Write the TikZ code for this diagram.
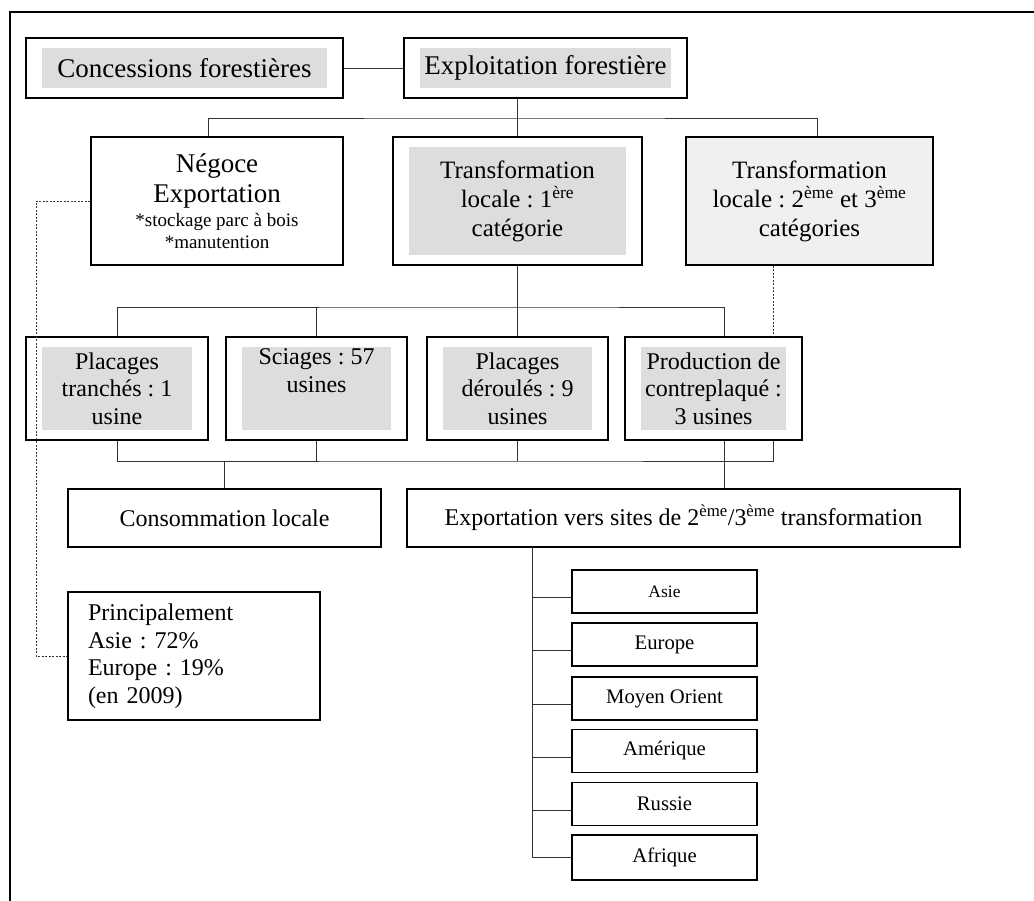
\documentclass[tikz,border=0pt]{standalone}
\usepackage{fontspec}
\setmainfont{Liberation Serif}
\usepackage{xcolor}
\usetikzlibrary{positioning}

\definecolor{fondgris}{RGB}{220,221,223}
\definecolor{fondclair}{RGB}{240,240,240}

\newcommand{\tA}{\fontsize{27}{30}\selectfont}
\newcommand{\tB}{\fontsize{25}{29}\selectfont}
\newcommand{\tC}{\fontsize{24}{27.5}\selectfont}
\newcommand{\tD}{\fontsize{19}{22}\selectfont}
\newcommand{\tE}{\fontsize{20.7}{24}\selectfont}

\frenchspacing

\begin{document}
\begin{tikzpicture}[x=1pt, y=-1pt,
    boite/.style={draw, line width=1.6pt, align=center, inner sep=0pt},
    grisee/.style={path picture={\fill[fondgris]
        ([shift={(16pt,-10pt)}]path picture bounding box.north west) rectangle
        ([shift={(-16pt,10pt)}]path picture bounding box.south east);}},
    lien/.style={draw=black!80, line width=0.9pt},
    pointille/.style={draw=black!80, line width=0.9pt, dash pattern=on 2pt off 1.5pt}]

      \useasboundingbox (0,0) rectangle (1034,901);
      \draw[line width=2pt] (1034,12) -- (10,12) -- (10,901);

      \node[boite, grisee, font=\tA, minimum width=317pt, minimum height=60pt] (conc) at (184.5,68) {Concessions forestières};
      \node[boite, grisee, font=\tA, minimum width=283pt, minimum height=60pt] (expl) at (545.5,68) {Exploitation forestière};

      \node[boite, font=\tA, minimum width=252pt, minimum height=128pt] (nego) at (217,201)
        {Négoce\\ Exportation\\[-6pt] \tD *stockage parc à bois\\[-8pt] \tD *manutention};
      \node[boite, grisee, font=\tB, minimum width=249pt, minimum height=128pt] (trans1) at (517.5,201)
        {Transformation\\ locale : 1\textsuperscript{ère}\\ catégorie};
      \node[boite, fill=fondclair, font=\tB, minimum width=247pt, minimum height=128pt] (trans2) at (809.5,201)
        {Transformation\\ locale : 2\textsuperscript{ème} et 3\textsuperscript{ème}\\ catégories};

      \node[boite, grisee, font=\tC, minimum width=182pt, minimum height=103pt] (tranche) at (117,388.5)
        {Placages\\ tranchés : 1\\ usine};
      \node[boite, grisee, font=\tC, minimum width=181pt, minimum height=103pt] (sciages) at (316.5,388.5)
        {Sciages : 57\\ usines\\ \strut};
      \node[boite, grisee, font=\tC, minimum width=181pt, minimum height=103pt] (deroules) at (517.5,388.5)
        {Placages\\ déroulés : 9\\ usines};
      \node[boite, grisee, font=\tC, minimum width=177pt, minimum height=103pt] (contre) at (713.5,388.5)
        {Production de\\ contreplaqué :\\ 3 usines};

      \node[boite, font=\tC, minimum width=313pt, minimum height=58pt] (conso) at (224.5,518) {Consommation locale};
      \node[boite, font=\tC, minimum width=553pt, minimum height=58pt] (export) at (683.5,518)
        {Exportation vers sites de 2\textsuperscript{ème}/3\textsuperscript{ème} transformation};

      \node[boite, font=\tC, align=left, text width=212pt, minimum width=252pt, minimum height=128pt] (princ) at (194,656)
        {Principalement\\ Asie : 72\%\\ Europe : 19\%\\ (en 2009)};

      \node[boite, font=\fontsize{17.5}{20}\selectfont, minimum width=185pt, minimum height=43pt] (asie) at (664.5,591.5) {Asie};
      \node[boite, font=\tE, minimum width=185pt, minimum height=43pt] (europe) at (664.5,644.5) {Europe};
      \node[boite, font=\tE, minimum width=185pt, minimum height=43pt] (moyen) at (664.5,698.5) {Moyen Orient};
      \node[boite, font=\tE, minimum width=185pt, minimum height=43pt] (amerique) at (664.5,751) {Amérique};
      \node[boite, font=\tE, minimum width=185pt, minimum height=43pt] (russie) at (664.5,804) {Russie};
      \node[boite, font=\tE, minimum width=185pt, minimum height=45pt] (afrique) at (664.5,857.5) {Afrique};

      \coordinate (b1) at (516,118);
      \coordinate (b2) at (516,307);
      \coordinate (b3) at (516,461);
      \coordinate (tronc) at (532,547);

      \draw[lien] (conc) -- (expl);
      \draw[lien] (trans1.north) -- (trans1.north |- expl.south);
      \draw[lien] ([xshift=-9pt]nego.north) |- (b1) -| ([xshift=7.5pt]trans2.north);

      \draw[lien] (trans1.south) -- (trans1.south |- b2);
      \draw[lien] (tranche.north) |- (b2) -| ([xshift=10.5pt]contre.north);
      \draw[lien] (sciages.north) -- (sciages.north |- b2);
      \draw[lien] (deroules.north) -- (deroules.north |- b2);

      \draw[lien] (tranche.south) |- (b3) -| ([xshift=59.5pt]contre.south);
      \draw[lien] (sciages.south) -- (sciages.south |- b3);
      \draw[lien] (deroules.south) -- (deroules.south |- b3);
      \draw[lien] (conso.north) -- (conso.north |- b3);
      \draw[lien] ([xshift=10.5pt]contre.south) -- ([xshift=10.5pt]contre.south |- export.north);

      \draw[pointille] ([xshift=-36.5pt]trans2.south) -- ([xshift=59.5pt]contre.north);
      \draw[pointille] (nego.west) -- ++(-54,0) |- (princ.west);

      \draw[lien] (tronc) |- (afrique.west);
      \foreach \p in {asie,europe,moyen,amerique,russie}
        \draw[lien] ([yshift=-6pt]\p.west) -- ([yshift=-6pt]\p.west -| tronc);

    \end{tikzpicture}
\end{document}
